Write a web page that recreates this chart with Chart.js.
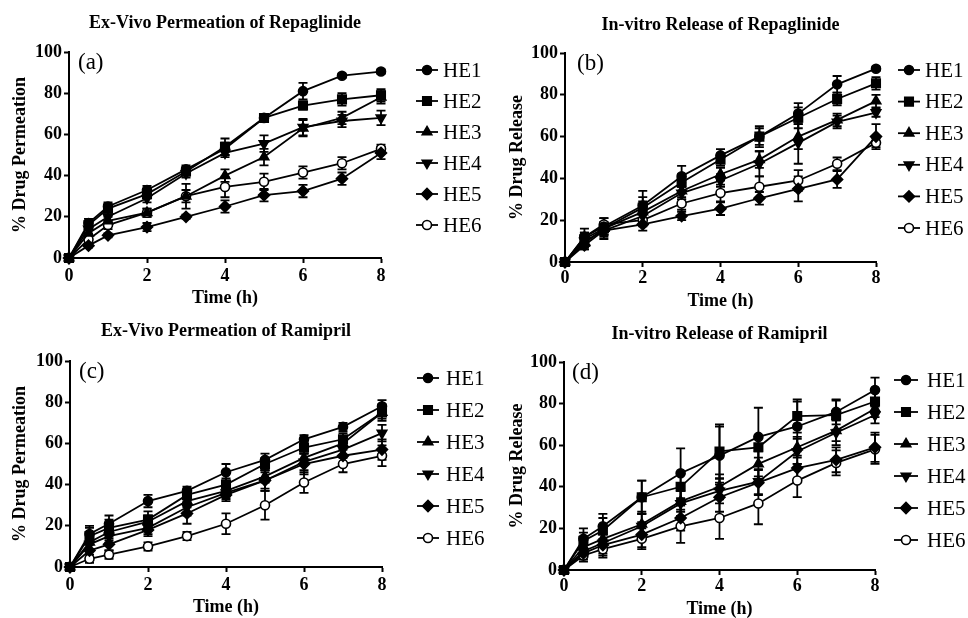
<!DOCTYPE html>
<html><head><meta charset="utf-8">
<script src="https://cdn.jsdelivr.net/npm/chart.js@4.4.1/dist/chart.umd.min.js"></script>
<style>
body{margin:0;background:#fff;width:968px;height:618px;position:relative;overflow:hidden}
canvas{position:absolute}
</style>
</head><body>
<canvas id="pa" width="484" height="309" style="left:0;top:0"></canvas>
<canvas id="pb" width="484" height="309" style="left:484px;top:0"></canvas>
<canvas id="pc" width="484" height="309" style="left:0;top:309px"></canvas>
<canvas id="pd" width="484" height="309" style="left:484px;top:309px"></canvas>
<script>
const timePoints = [0, 0.5, 1, 2, 3, 4, 5, 6, 7, 8];
const seriesNames = ['HE1', 'HE2', 'HE3', 'HE4', 'HE5', 'HE6'];
const xTickValues = [0, 2, 4, 6, 8];
const yTickValues = [0, 20, 40, 60, 80, 100];

// (a) Ex-Vivo Permeation of Repaglinide
const repaPermMean = [
  [0,17,25,33,43,53,68,81,88.5,90.5],
  [0,16,24,31,42,54,68,74,77,79],
  [0,12,18,22,30,40,49,63,68,78],
  [0,14,20,29,41,51,55.5,63.5,66.5,68],
  [0,6,11,15,20,25,30.5,32.5,38.5,51],
  [0,9,16,22,30,34.5,37,41.5,46,53]
];
const repaPermSD = [
  [0,2,2,2,2,3,2,4,1,1],
  [0,2,2,2,2,4,2,2,3,3],
  [0,2,2,2,6,3,4,4,3,3],
  [0,2,2,2,2,2,4,4,3,3.5],
  [0,1,1,2,1,3,3,3,3,3],
  [0,1,2,2,3,5,4,3,3,2]
];
// (b) In-vitro Release of Repaglinide
const repaRelMean = [
  [0,12,17,27,41,51,60,71,85,92.5],
  [0,11,16,26,38,49,60,69,78,85.5],
  [0,9,16,24,34,42,49,60,68,77],
  [0,10,15,22,33,39,47,57,67,71.5],
  [0,8,15,18,22,25.5,30.5,35,39.5,60],
  [0,12,18,20,28,33,36,39,47,57]
];
const repaRelSD = [
  [0,4,4,7,5,3,5,5,4,1],
  [0,3,3,5,4,3,4,5,3,3],
  [0,3,3,5,4,3,4,6,3,3],
  [0,3,3,4,3,3,6,10,3,2],
  [0,2,4,3,2,3,3,6,4,6],
  [0,2,3,3,3,4,5,5,3,2]
];
// (c) Ex-Vivo Permeation of Ramipril
const ramiPermMean = [
  [0,16,21,32,37,46,52,62,68,78],
  [0,15,19,23,35,40,50,58,62,75],
  [0,12,17,22,32,37,44,53,60,75],
  [0,11,15,19,29,36,42,51,57,65],
  [0,8,11,18,26,35,42,50,54,57],
  [0,4,6,10,15,21,30,41,50,54]
];
const ramiPermSD = [
  [0,4,4,3,2,4,3,2,2,3],
  [0,4,4,4,3,3,3,3,3,3],
  [0,4,4,3,3,3,3,3,3,4],
  [0,3,3,3,4,3,4,4,4,4],
  [0,3,3,3,5,3,5,5,4,5],
  [0,2,2,2,2,5,7,5,4,5]
];
// (d) In-vitro Release of Ramipril
const ramiRelMean = [
  [0,15,21,35,46.5,55,64,69,76,86.5],
  [0,14,19,35,40,57,59,74,74.5,81],
  [0,11,15,22,33,40,51,59,67,77.5],
  [0,9,13,21,32,38,42.5,57,66,74.5],
  [0,8,12,17,25,35,42,49,53,59],
  [0,7,10,15,21,25,32,43,51.5,58]
];
const ramiRelSD = [
  [0,5,6,8,12,14,14,12,6,6],
  [0,4,6,8,6,13,5,8,7,5],
  [0,3,5,6,5,6,6,5,5,4],
  [0,3,5,6,6,6,6,6,6,4],
  [0,3,5,6,6,7,6,6,6,7],
  [0,3,4,5,8,10,10,8,6,7]
];

const FONT = '"Liberation Serif", "Times New Roman", serif';
const markerStyles = [
  {pointStyle:'circle', radius:4.5, rotation:0, fill:'#000'},
  {pointStyle:'rect', radius:6, rotation:0, fill:'#000'},
  {pointStyle:'triangle', radius:5.5, rotation:0, fill:'#000'},
  {pointStyle:'triangle', radius:5.5, rotation:180, fill:'#000'},
  {pointStyle:'rectRot', radius:5.5, rotation:0, fill:'#000'},
  {pointStyle:'circle', radius:4.5, rotation:0, fill:'#fff'}
];

const errorBarPlugin = {
  id: 'errorBars',
  beforeDatasetsDraw(chart) {
    const ctx = chart.ctx, xs = chart.scales.x, ys = chart.scales.y;
    ctx.save();
    ctx.strokeStyle = '#000';
    ctx.lineWidth = 1.8;
    chart.data.datasets.forEach(ds => {
      ds.data.forEach((p, j) => {
        const e = ds.errors[j];
        if (!e) return;
        const px = xs.getPixelForValue(p.x);
        const y1 = ys.getPixelForValue(p.y + e);
        const y2 = ys.getPixelForValue(p.y - e);
        ctx.beginPath();
        ctx.moveTo(px, y1); ctx.lineTo(px, y2);
        ctx.moveTo(px - 4.5, y1); ctx.lineTo(px + 4.5, y1);
        ctx.moveTo(px - 4.5, y2); ctx.lineTo(px + 4.5, y2);
        ctx.stroke();
      });
    });
    ctx.restore();
  }
};

const sideLegendPlugin = {
  id: 'sideLegend',
  afterDraw(chart, args, o) {
    const ctx = chart.ctx;
    chart.data.datasets.forEach((ds, i) => {
      const y = o.y0 + i * o.step;
      ctx.save();
      ctx.strokeStyle = '#000';
      ctx.lineWidth = 1.8;
      ctx.beginPath(); ctx.moveTo(o.x1, y); ctx.lineTo(o.x2, y); ctx.stroke();
      ctx.fillStyle = ds.pointBackgroundColor;
      ctx.lineWidth = ds.pointBorderWidth;
      Chart.helpers.drawPoint(ctx, {
        pointStyle: ds.pointStyle, rotation: ds.pointRotation,
        radius: ds.pointRadius, borderWidth: ds.pointBorderWidth
      }, (o.x1 + o.x2) / 2, y);
      ctx.fillStyle = '#000';
      ctx.font = '21px ' + FONT;
      ctx.textAlign = 'left';
      ctx.textBaseline = 'middle';
      ctx.fillText(ds.label, o.textX, y + 1);
      ctx.restore();
    });
  }
};

const panelLabelPlugin = {
  id: 'panelLabel',
  afterDraw(chart, args, o) {
    const ctx = chart.ctx, a = chart.chartArea;
    ctx.save();
    ctx.fillStyle = '#000';
    ctx.font = '23px ' + FONT;
    ctx.textAlign = 'left';
    ctx.textBaseline = 'middle';
    ctx.fillText(o.text, a.left + o.dx, a.top + o.dy);
    ctx.restore();
  }
};

function makePanel(id, cfg, means, sds) {
  const datasets = seriesNames.map((name, i) => ({
    label: name,
    data: timePoints.map((t, j) => ({x: t, y: means[i][j]})),
    errors: sds[i],
    borderColor: '#000',
    borderWidth: 1.8,
    backgroundColor: markerStyles[i].fill,
    pointStyle: markerStyles[i].pointStyle,
    pointRadius: markerStyles[i].radius,
    pointRotation: markerStyles[i].rotation,
    pointBackgroundColor: markerStyles[i].fill,
    pointBorderColor: '#000',
    pointBorderWidth: 1.6,
    tension: 0,
    clip: false
  }));
  const ts = 18, lh = ts * 1.2;
  const tickFont = {family: FONT, size: 18, weight: 'bold'};
  return new Chart(document.getElementById(id), {
    type: 'line',
    data: {datasets},
    plugins: [errorBarPlugin, sideLegendPlugin, panelLabelPlugin],
    options: {
      responsive: false,
      animation: false,
      devicePixelRatio: 1,
      events: [],
      layout: {padding: {left: 0, right: 484 - cfg.right, top: 0, bottom: 0}},
      plugins: {
        legend: {display: false},
        tooltip: {enabled: false},
        title: {
          display: true, text: cfg.title, fullSize: false, color: '#000',
          font: {family: FONT, size: ts, weight: 'bold', lineHeight: 1.2},
          padding: {top: cfg.titleY - lh / 2, bottom: cfg.top - cfg.titleY - lh / 2}
        },
        sideLegend: cfg.legend,
        panelLabel: {text: cfg.label, dx: cfg.labelDx, dy: 11}
      },
      scales: {
        x: {
          type: 'linear', min: 0, max: 8,
          afterBuildTicks(s) { s.ticks = xTickValues.map(v => ({value: v})); },
          afterFit(s) { s.height = 309 - cfg.bottom; },
          ticks: {font: tickFont, color: '#000', padding: cfg.xPad - 1, maxRotation: 0, autoSkip: false},
          grid: {drawOnChartArea: false, drawTicks: true, tickLength: 5, tickWidth: 2, tickColor: '#000'},
          border: {color: '#000', width: 2},
          title: {display: true, text: 'Time (h)', color: '#000',
                  font: {family: FONT, size: ts, weight: 'bold', lineHeight: 1.2},
                  padding: {top: 0, bottom: 309 - cfg.xTitleY - lh / 2}}
        },
        y: {
          type: 'linear', min: 0, max: 100,
          afterBuildTicks(s) { s.ticks = yTickValues.map(v => ({value: v})); },
          afterFit(s) { s.width = cfg.left; },
          ticks: {font: tickFont, color: '#000', padding: 2, autoSkip: false},
          grid: {drawOnChartArea: false, drawTicks: true, tickLength: 5, tickWidth: 2, tickColor: '#000'},
          border: {color: '#000', width: 2},
          title: {display: true, text: cfg.yTitle, color: '#000',
                  font: {family: FONT, size: ts, weight: 'bold', lineHeight: 1.2},
                  padding: {top: cfg.yTitleX - lh / 2, bottom: 0}}
        }
      }
    }
  });
}

makePanel('pa', {
  title: 'Ex-Vivo Permeation of Repaglinide', label: '(a)', labelDx: 9,
  yTitle: '% Drug Permeation',
  left: 69, right: 381, top: 52, bottom: 258,
  titleY: 23, xTitleY: 298, yTitleX: 20, xPad: 4,
  legend: {x1: 416, x2: 438, textX: 443, y0: 70, step: 31}
}, repaPermMean, repaPermSD);

makePanel('pb', {
  title: 'In-vitro Release of Repaglinide', label: '(b)', labelDx: 12,
  yTitle: '% Drug Release',
  left: 81, right: 392, top: 53, bottom: 262,
  titleY: 25, xTitleY: 301, yTitleX: 33, xPad: 2,
  legend: {x1: 414, x2: 436, textX: 441, y0: 70, step: 31.6}
}, repaRelMean, repaRelSD);

makePanel('pc', {
  title: 'Ex-Vivo Permeation of Ramipril', label: '(c)', labelDx: 9,
  yTitle: '% Drug Permeation',
  left: 70, right: 382, top: 52, bottom: 258,
  titleY: 22, xTitleY: 298, yTitleX: 20, xPad: 4,
  legend: {x1: 417, x2: 439, textX: 446, y0: 69, step: 32}
}, ramiPermMean, ramiPermSD);

makePanel('pd', {
  title: 'In-vitro Release of Ramipril', label: '(d)', labelDx: 8,
  yTitle: '% Drug Release',
  left: 80, right: 391, top: 53, bottom: 261,
  titleY: 25, xTitleY: 300, yTitleX: 33, xPad: 2,
  legend: {x1: 410, x2: 434, textX: 443, y0: 71, step: 32}
}, ramiRelMean, ramiRelSD);
</script>
</body></html>
